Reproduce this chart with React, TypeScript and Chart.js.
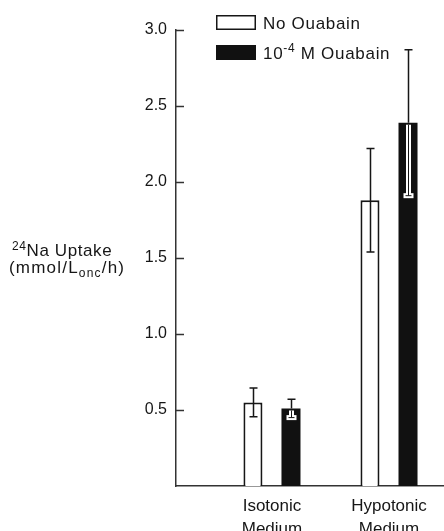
import React, { useEffect, useRef } from 'react';
import { Chart, registerables } from 'chart.js';

Chart.register(...registerables);

// ---- data ----
const categories: string[][] = [['Isotonic', 'Medium'], ['Hypotonic', 'Medium']];
const seriesLabels = ['No Ouabain', '10-4 M Ouabain'];
const noOuabain = [0.55, 1.88];
const noOuabainErr = [0.095, 0.34];
const ouabain = [0.51, 2.39];
const ouabainErr = [0.06, 0.48];
const yTickValues = [0.5, 1.0, 1.5, 2.0, 2.5, 3.0];

type Part = { text: string; sup?: boolean; sub?: boolean };
const legendParts: Part[][] = [
  [{ text: 'No Ouabain' }],
  [{ text: '10' }, { text: '-4', sup: true }, { text: ' M Ouabain' }],
];
const yTitleParts: Part[][] = [
  [{ text: '24', sup: true }, { text: 'Na Uptake' }],
  [{ text: '(mmol/L' }, { text: 'onc', sub: true }, { text: '/h)' }],
];

const FAMILY = "'Liberation Sans', Arial, Helvetica, sans-serif";
const INK = '#161616';
const AXIS = '#333333';

function drawRich(
  ctx: CanvasRenderingContext2D,
  parts: Part[],
  x: number,
  baseline: number,
  size: number,
  spacing: number
) {
  let cx = x;
  (ctx as any).letterSpacing = `${spacing}px`;
  for (const p of parts) {
    const small = p.sup || p.sub;
    const fs = small ? Math.round(size * 0.72) : size;
    ctx.font = `${fs}px ${FAMILY}`;
    const y = p.sup ? baseline - size * 0.36 : p.sub ? baseline + size * 0.22 : baseline;
    ctx.fillText(p.text, cx, y);
    cx += ctx.measureText(p.text).width;
  }
  (ctx as any).letterSpacing = '0px';
}

const decorPlugin = {
  id: 'decor',
  afterDraw(chart: any) {
    const { ctx, chartArea, scales } = chart;
    const y = scales.y;
    ctx.save();
    // inward tick marks
    ctx.strokeStyle = AXIS;
    ctx.lineWidth = 1.5;
    for (const v of yTickValues) {
      const py = Math.round(y.getPixelForValue(v)) + 0.5;
      ctx.beginPath();
      ctx.moveTo(chartArea.left, py);
      ctx.lineTo(chartArea.left + 8, py);
      ctx.stroke();
    }
    // legend
    const lx = chartArea.left + 40;
    const rows = [chartArea.top - 15, chartArea.top + 15];
    ctx.textBaseline = 'alphabetic';
    ctx.textAlign = 'left';
    rows.forEach((ry, i) => {
      if (i === 0) {
        ctx.fillStyle = '#fff';
        ctx.fillRect(lx, ry, 40, 15);
        ctx.strokeStyle = INK;
        ctx.lineWidth = 1.5;
        ctx.strokeRect(lx + 0.75, ry + 0.75, 38.5, 13.5);
      } else {
        ctx.fillStyle = '#111';
        ctx.fillRect(lx, ry, 40, 15);
      }
      ctx.fillStyle = INK;
      drawRich(ctx, legendParts[i], lx + 47, ry + 13.5, 17, 0.7);
    });
    // y-axis title
    ctx.fillStyle = INK;
    drawRich(ctx, yTitleParts[0], 12, 256, 17, 0.6);
    drawRich(ctx, yTitleParts[1], 9, 273, 17, 1.2);
    ctx.restore();
  },
  afterDatasetsDraw(chart: any) {
    const { ctx, scales } = chart;
    const y = scales.y;
    const errs = [noOuabainErr, ouabainErr];
    const vals = [noOuabain, ouabain];
    ctx.save();
    for (let d = 0; d < 2; d++) {
      const meta = chart.getDatasetMeta(d);
      meta.data.forEach((el: any, j: number) => {
        const x = Math.round(el.x) + 0.5;
        const top = el.y;
        const up = y.getPixelForValue(vals[d][j] + errs[d][j]);
        const lo = y.getPixelForValue(vals[d][j] - errs[d][j]);
        ctx.strokeStyle = INK;
        ctx.lineWidth = 1.5;
        if (d === 0) {
          ctx.beginPath();
          ctx.moveTo(x, up);
          ctx.lineTo(x, lo);
          ctx.moveTo(x - 4, up);
          ctx.lineTo(x + 4, up);
          ctx.moveTo(x - 4, lo);
          ctx.lineTo(x + 4, lo);
          ctx.stroke();
        } else {
          ctx.beginPath();
          ctx.moveTo(x, up);
          ctx.lineTo(x, top);
          ctx.moveTo(x - 4, up);
          ctx.lineTo(x + 4, up);
          ctx.stroke();
          // lower whisker in white inside the black bar
          ctx.strokeStyle = '#fff';
          ctx.lineWidth = 5;
          ctx.beginPath();
          ctx.moveTo(x, top + 2);
          ctx.lineTo(x, lo);
          ctx.stroke();
          ctx.fillStyle = '#fff';
          ctx.fillRect(x - 5, lo - 2.5, 10, 5);
          ctx.strokeStyle = INK;
          ctx.lineWidth = 1;
          ctx.beginPath();
          ctx.moveTo(x, top + 2);
          ctx.lineTo(x, lo);
          ctx.moveTo(x - 3, lo);
          ctx.lineTo(x + 3, lo);
          ctx.stroke();
        }
      });
    }
    ctx.restore();
  },
};

export default function App() {
  const ref = useRef<HTMLCanvasElement | null>(null);
  useEffect(() => {
    if (!ref.current) return;
    const chart = new Chart(ref.current, {
      type: 'bar',
      data: {
        datasets: [
          {
            label: seriesLabels[0],
            data: noOuabain.map((v, i) => ({ x: i + 1, y: v })),
            backgroundColor: '#ffffff',
            borderColor: INK,
            borderWidth: 2,
          },
          {
            label: seriesLabels[1],
            data: ouabain.map((v, i) => ({ x: i + 1, y: v })),
            backgroundColor: '#111111',
            borderWidth: 0,
          },
        ],
      } as any,
      options: {
        animation: false,
        responsive: false,
        devicePixelRatio: 1,
        layout: { padding: { top: 30, right: 0, bottom: 0, left: 0 } },
        datasets: { bar: { categoryPercentage: 0.65, barPercentage: 0.5 } },
        plugins: { legend: { display: false }, tooltip: { enabled: false } },
        scales: {
          x: {
            type: 'linear',
            min: 0.18,
            max: 2.47,
            offset: false,
            grid: { display: false, drawTicks: false },
            border: { display: true, color: AXIS, width: 1.5 },
            afterBuildTicks: (s: any) => {
              s.ticks = categories.map((_, i) => ({ value: i + 1 }));
            },
            afterFit: (s: any) => {
              s.height = 45;
            },
            ticks: {
              autoSkip: false,
              maxRotation: 0,
              padding: 8,
              color: INK,
              font: { size: 17, family: FAMILY, lineHeight: 1.4 },
              callback: (v: any) => categories[Number(v) - 1] ?? '',
            },
          },
          y: {
            min: 0,
            max: 3,
            grid: { display: false, drawTicks: false },
            border: { display: true, color: AXIS, width: 1.5 },
            afterFit: (s: any) => {
              s.width = 176;
            },
            afterBuildTicks: (s: any) => {
              s.ticks = [0, ...yTickValues].map((v) => ({ value: v }));
            },
            ticks: {
              padding: 9,
              color: INK,
              font: { size: 16, family: FAMILY },
              callback: (v: any) => (Number(v) === 0 ? '' : Number(v).toFixed(1)),
            },
          },
        },
      } as any,
      plugins: [decorPlugin],
    });
    return () => chart.destroy();
  }, []);
  return (
    <div style={{ position: 'fixed', left: 0, top: 0, width: 444, height: 531, background: '#fff' }}>
      <canvas ref={ref} width={444} height={531} />
    </div>
  );
}
